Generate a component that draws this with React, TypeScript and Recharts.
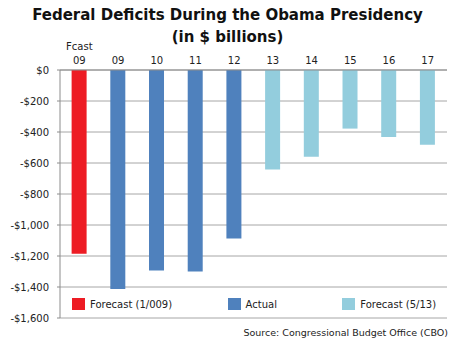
import React from 'react';
import {
  BarChart,
  Bar,
  XAxis,
  YAxis,
  CartesianGrid,
  Legend,
} from 'recharts';

// fiscal years, the first one is the Jan 2009 forecast
const CATEGORIES = ['Fcast 09', '09', '10', '11', '12', '13', '14', '15', '16', '17'];
const GROUPS = ['fcast', 'actual', 'actual', 'actual', 'actual', 'forecast', 'forecast', 'forecast', 'forecast', 'forecast'];
const DEFICITS = [-1186, -1413, -1294, -1300, -1087, -642, -560, -378, -432, -482];

const SERIES = [
  { key: 'fcast', name: 'Forecast (1/009)', color: '#ED1C24' },
  { key: 'actual', name: 'Actual', color: '#4F81BD' },
  { key: 'forecast', name: 'Forecast (5/13)', color: '#93CDDD' },
];

const Y_TICKS = [0, -200, -400, -600, -800, -1000, -1200, -1400, -1600];
const EDGE_TICKS = [0, 1, 2, 3, 4, 5, 6, 7, 8, 9, 10];

const data = CATEGORIES.map((label, i) => {
  const row: Record<string, string | number | null> = { label };
  SERIES.forEach((s) => {
    row[s.key] = GROUPS[i] === s.key ? DEFICITS[i] : null;
  });
  return row;
});

const FONT = '"DejaVu Sans", Verdana, sans-serif';

const fmtDollars = (v: number) => {
  if (v === 0) return '$0';
  return '-$' + Math.abs(v).toLocaleString('en-US');
};

const CategoryTick = (props: any) => {
  const { x, y, payload } = props;
  const parts = String(payload.value).split(' ');
  const year = parts[parts.length - 1];
  return (
    <g>
      {parts.length > 1 && (
        <text x={x} y={y - 20} textAnchor="middle" fontSize={10} fill="#222" fontFamily={FONT}>
          {parts[0]}
        </text>
      )}
      <text x={x} y={y - 6} textAnchor="middle" fontSize={10} fill="#222" fontFamily={FONT}>
        {year}
      </text>
    </g>
  );
};

const LegendContent = (props: any) => {
  const widths = [156, 115, 110];
  const items = props.payload || [];
  return (
    <div style={{ display: 'flex', fontFamily: FONT, fontSize: 10, color: '#222' }}>
      {SERIES.map((s, i) => {
        const item = items.find((p: any) => p.value === s.name) || { value: s.name, color: s.color };
        return (
          <div key={s.key} style={{ width: widths[i], display: 'flex', alignItems: 'center' }}>
            <span style={{ width: 13, height: 12, background: item.color, marginRight: 5, display: 'inline-block' }} />
            <span>{item.value}</span>
          </div>
        );
      })}
    </div>
  );
};

export default function App() {
  return (
    <div style={{ position: 'absolute', left: 0, top: 0, width: 455, height: 347, background: '#fff', fontFamily: FONT }}>
      <div style={{ position: 'absolute', left: 0, top: 4, width: 455, textAlign: 'center', fontSize: 15, fontWeight: 'bold', lineHeight: '22px', color: '#111' }}>
        Federal Deficits During the Obama Presidency
        <br />
        (in $ billions)
      </div>
      <BarChart
        width={455}
        height={347}
        data={data}
        margin={{ top: 69, right: 8, left: 0, bottom: 29 }}
        barCategoryGap="30%"
        style={{ position: 'absolute', left: 0, top: 0 }}
      >
        <CartesianGrid xAxisId="cat" vertical={false} stroke="#a6a6a6" />
        <XAxis
          xAxisId="edge"
          type="number"
          domain={[0, 10]}
          ticks={EDGE_TICKS}
          orientation="top"
          height={1}
          mirror
          tick={false}
          tickSize={5}
          stroke="#8c8c8c"
          allowDataOverflow
        />
        <XAxis
          xAxisId="cat"
          dataKey="label"
          orientation="top"
          height={1}
          axisLine={false}
          tickLine={false}
          tickSize={0}
          tickMargin={0}
          interval={0}
          tick={<CategoryTick />}
        />
        <YAxis
          width={60}
          domain={[-1600, 0]}
          ticks={Y_TICKS}
          interval={0}
          tickFormatter={fmtDollars}
          tickSize={3}
          tickMargin={8}
          stroke="#8c8c8c"
          tick={{ fill: '#222', fontSize: 10, fontFamily: FONT }}
        />
        {SERIES.map((s) => (
          <Bar key={s.key} xAxisId="cat" dataKey={s.key} name={s.name} stackId="a" fill={s.color} isAnimationActive={false} />
        ))}
        <Legend
          layout="vertical"
          align="center"
          verticalAlign="middle"
          content={<LegendContent />}
          wrapperStyle={{ position: 'absolute', left: 72, top: 298, width: 380, height: 14 }}
        />
      </BarChart>
      <div style={{ position: 'absolute', right: 7, top: 327, fontSize: 9.5, color: '#222' }}>
        Source: Congressional Budget Office (CBO)
      </div>
    </div>
  );
}
